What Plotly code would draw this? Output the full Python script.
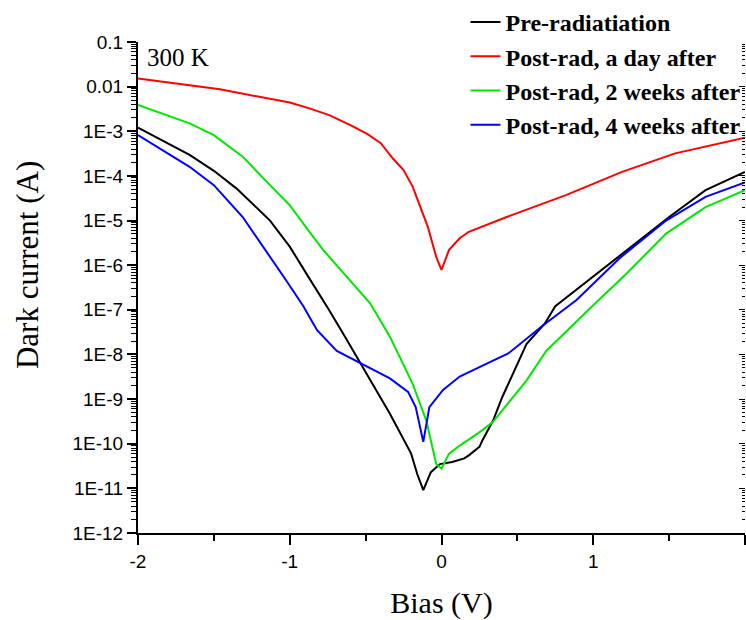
import plotly.graph_objects as go

# Bias (V) and dark current (A)
pre_x = [-2.0, -1.66, -1.5, -1.35, -1.13, -1.0, -0.87, -0.78, -0.74, -0.63, -0.54, -0.34, -0.2, -0.16, -0.12,
         -0.07, -0.01, 0.07, 0.15, 0.18, 0.25, 0.27, 0.34, 0.40, 0.56, 0.68, 0.75, 1.0, 1.26, 1.5, 1.74, 2.0]
pre_y = [1.2e-3, 2.95e-4, 1.3e-4, 5.2e-5, 1.0e-5, 2.6e-6, 5.0e-7, 1.66e-7, 9.8e-8, 2.3e-8, 6.8e-9, 4.7e-10,
         6.0e-11, 2.1e-11, 9.1e-12, 2.3e-11, 3.5e-11, 3.9e-11, 4.7e-11, 5.5e-11, 8.5e-11, 1.2e-10, 3.3e-10,
         1.1e-9, 1.7e-8, 4.9e-8, 1.2e-7, 5.5e-7, 2.8e-6, 1.2e-5, 4.8e-5, 1.23e-4]

day_x = [-2.0, -1.46, -1.0, -0.87, -0.74, -0.6, -0.49, -0.4, -0.32, -0.25, -0.19, -0.14, -0.09, -0.035, 0.0,
         0.05, 0.12, 0.18, 0.43, 0.82, 1.19, 1.54, 2.0]
day_y = [1.53e-2, 8.7e-3, 4.4e-3, 3.26e-3, 2.3e-3, 1.38e-3, 8.7e-4, 5.4e-4, 2.45e-4, 1.35e-4, 5.75e-5, 2.0e-5,
         7.2e-6, 1.55e-6, 7.8e-7, 2.2e-6, 4.0e-6, 5.6e-6, 1.2e-5, 3.7e-5, 1.23e-4, 3.2e-4, 7.2e-4]

wk2_x = [-2.0, -1.66, -1.5, -1.31, -1.13, -1.0, -0.87, -0.78, -0.47, -0.34, -0.19, -0.10, -0.035, 0.0, 0.05,
         0.12, 0.25, 0.34, 0.56, 0.69, 1.0, 1.22, 1.48, 1.74, 2.0]
wk2_y = [3.9e-3, 1.5e-3, 8.2e-4, 2.7e-4, 6.2e-5, 2.2e-5, 5.6e-6, 2.2e-6, 1.4e-7, 2.5e-8, 2.2e-9, 3.3e-10,
         3.5e-11, 2.75e-11, 6.0e-11, 9.1e-11, 1.8e-10, 3.1e-10, 2.6e-9, 1.2e-8, 1.26e-7, 6.5e-7, 5.1e-6,
         2.0e-5, 4.8e-5]

wk4_x = [-2.0, -1.66, -1.5, -1.31, -1.04, -1.0, -0.91, -0.87, -0.82, -0.69, -0.54, -0.34, -0.22, -0.17,
         -0.12, -0.08, 0.01, 0.12, 0.25, 0.44, 0.67, 0.89, 1.17, 1.48, 1.74, 2.0]
wk4_y = [8.2e-4, 1.6e-4, 6.2e-5, 1.2e-5, 5.5e-7, 3.5e-7, 1.2e-7, 6.9e-8, 3.5e-8, 1.2e-8, 6.5e-9, 2.9e-9,
         1.45e-9, 6.6e-10, 1.1e-10, 6.6e-10, 1.6e-9, 3.2e-9, 5.2e-9, 1.05e-8, 4.5e-8, 1.66e-7, 1.4e-6,
         1.0e-5, 3.4e-5, 7.1e-5]

series_names = ["Pre-radiatiation", "Post-rad, a day after", "Post-rad, 2 weeks after", "Post-rad, 4 weeks after"]
series_colors = ["#000000", "#ff0000", "#00e800", "#0000ff"]

x_ticks = [-2, -1, 0, 1, 2]
x_ticktext = ["-2", "-1", "0", "1", "2"]
y_ticks = [1e-1, 1e-2, 1e-3, 1e-4, 1e-5, 1e-6, 1e-7, 1e-8, 1e-9, 1e-10, 1e-11, 1e-12]
y_ticktext = ["0.1", "0.01", "1E-3", "1E-4", "1E-5", "1E-6", "1E-7", "1E-8", "1E-9", "1E-10", "1E-11", "1E-12"]

fig = go.Figure()
data = [(pre_x, pre_y), (day_x, day_y), (wk2_x, wk2_y), (wk4_x, wk4_y)]
for (xs, ys), name, col in zip(data, series_names, series_colors):
    fig.add_trace(go.Scatter(x=xs, y=ys, mode="lines", name=name, legendgroup=name,
                             line=dict(color=col, width=2)))
# empty trace to anchor the right-hand tick axis
fig.add_trace(go.Scatter(x=[], y=[], yaxis="y2", showlegend=False, hoverinfo="skip"))

sans = "Liberation Sans, Arial, sans-serif"
serif = "Liberation Serif, Times New Roman, serif"

fig.update_layout(
    template="none",
    width=746, height=620,
    margin=dict(l=138, r=1, t=42, b=87, autoexpand=False),
    paper_bgcolor="white", plot_bgcolor="white",
    showlegend=True,
    legend=dict(xref="container", yref="container", x=0.624, y=1.019, xanchor="left", yanchor="top",
                bgcolor="rgba(0,0,0,0)", borderwidth=0,
                font=dict(family=serif, size=24, color="black", weight="bold"), tracegroupgap=0,
                itemwidth=30),
    xaxis=dict(range=[-2, 2], tickvals=x_ticks, ticktext=x_ticktext, showgrid=False, zeroline=False,
               showline=True, linecolor="black", linewidth=2, ticks="outside", ticklen=10, tickwidth=2,
               tickcolor="black", tickfont=dict(family=sans, size=19, color="black"), automargin=False,
               minor=dict(ticks="outside", ticklen=6, tickwidth=2, dtick=0.5, tickcolor="black", showgrid=False),
               title=dict(text="Bias (V)", font=dict(family=serif, size=30, color="black"), standoff=28)),
    yaxis=dict(type="log", range=[-12, -1], tickvals=y_ticks, ticktext=y_ticktext, showgrid=False,
               zeroline=False, showline=True, linecolor="black", linewidth=2, ticks="outside", ticklen=9,
               tickwidth=2, tickcolor="black", tickfont=dict(family=sans, size=19, color="black"),
               automargin=False,
               minor=dict(ticks="outside", ticklen=5, tickwidth=1, dtick="D1", tickcolor="black", showgrid=False)),
    yaxis2=dict(type="log", range=[-12, -1], overlaying="y", side="right", showgrid=False, zeroline=False,
                showline=False, ticks="inside", ticklen=6, tickwidth=1, tickcolor="black",
                tickvals=y_ticks, showticklabels=False, automargin=False,
                minor=dict(ticks="inside", ticklen=3, tickwidth=1, dtick="D1", tickcolor="black", showgrid=False)),
)

fig.add_annotation(text="Dark current (A)", xref="paper", yref="paper", x=-0.181, y=0.546, textangle=-90,
                   xanchor="center", yanchor="middle", showarrow=False,
                   font=dict(family=serif, size=31, color="black"))
fig.add_annotation(text="300 K", xref="paper", yref="paper", x=0.012, y=1.0, xanchor="left", yanchor="top",
                   showarrow=False, font=dict(family=serif, size=25, color="black"))

fig.write_html("out.html")
